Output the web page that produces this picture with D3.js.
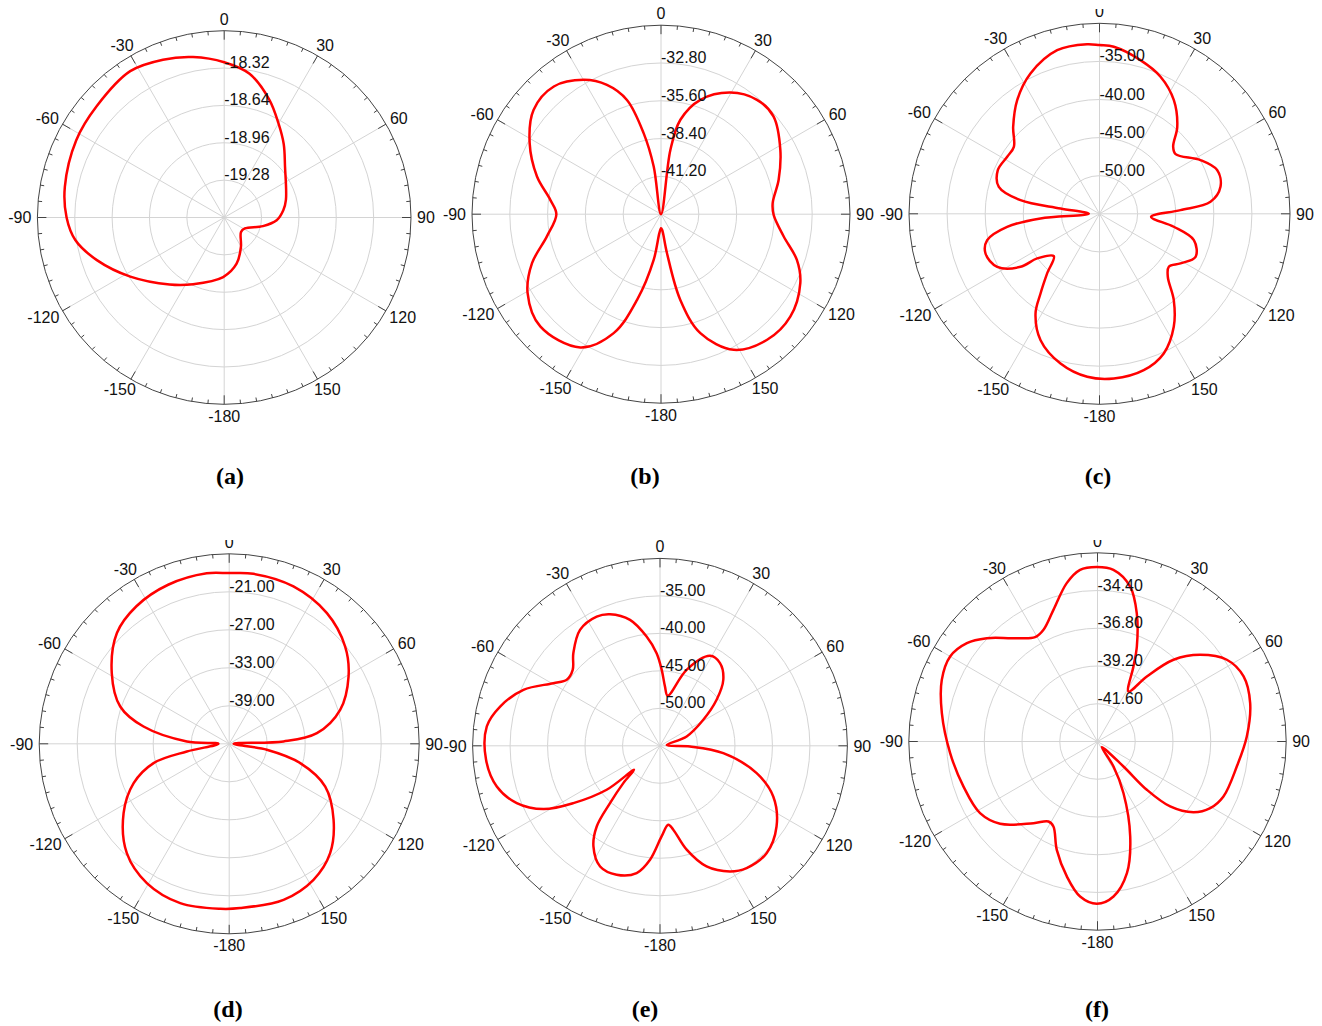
<!DOCTYPE html>
<html>
<head>
<meta charset="utf-8">
<script src="https://cdn.jsdelivr.net/npm/d3@7"></script>
<style>
  body { margin: 0; background: #fff; }
  svg { display: block; }
</style>
</head>
<body>
<svg id="chart" width="1322" height="1026"></svg>
<script>
// angle ticks shared by all six plots
const spokeAngles = [0, 30, 60, 90, 120, 150, 180, 210, 240, 270, 300, 330];
const spokeLabels = ['0', '30', '60', '90', '120', '150', '-180', '-150', '-120', '-90', '-60', '-30'];
const panelNames = ['(a)', '(b)', '(c)', '(d)', '(e)', '(f)'];

// radial axis: [centre value, outer value] and labelled rings
const aRange = [-19.60, -18.00], aRings = [-19.28, -18.96, -18.64, -18.32];
const bRange = [-44.00, -30.00], bRings = [-41.20, -38.40, -35.60, -32.80];
const cRange = [-55.00, -30.00], cRings = [-50.00, -45.00, -40.00, -35.00];
const dRange = [-45.00, -15.00], dRings = [-39.00, -33.00, -27.00, -21.00];
const eRange = [-55.00, -30.00], eRings = [-50.00, -45.00, -40.00, -35.00];
const fRange = [-44.00, -32.00], fRings = [-41.60, -39.20, -36.80, -34.40];

// curves (degrees, dB), in drawing order
const aAngles = [0, 10, 21, 30, 39, 50, 74, 83, 93, 102.5, 118, 130.7, 150.4, 165, -179, -155, -140.8, -122.2, -108.5, -98.6, -90, -79.1, -62.4, -48.9, -32.7, -21.2, -11];
const aValues = [-18.27, -18.35, -18.52, -18.67, -18.79, -18.92, -19.05, -19.09, -19.15, -19.26, -19.40, -19.41, -19.31, -19.19, -19.09, -18.97, -18.86, -18.65, -18.45, -18.31, -18.25, -18.21, -18.17, -18.15, -18.11, -18.15, -18.20];

const bAngles = [0, 8.3, 11.6, 19, 29.7, 40, 49, 61.7, 73.7, 84.4, 90.5, 100.3, 108.6, 116.3, 128.4, 139.8, 151.8, 161.7, 167.3, 171.3, 176, 180, -175, -170.9, -164.4, -158.3, -148.8, -132.9, -120.6, -110.8, -101, -90, -82.6, -73.1, -61.6, -50.7, -40, -29.9, -22.7, -16.6, -12.1, -8.7];
const bValues = [-44.5, -39.19, -36.86, -35.04, -33.63, -32.94, -32.96, -33.96, -34.92, -35.69, -35.65, -34.76, -33.38, -32.49, -31.78, -31.82, -32.60, -34.72, -37.49, -41.09, -42.84, -42.96, -42.59, -40.57, -37.41, -34.52, -32.46, -31.79, -32.52, -33.78, -35.39, -36.25, -35.73, -34.40, -32.94, -31.80, -31.65, -32.52, -33.62, -35.17, -37.86, -40.43];

const cAngles = [0, 4.9, 14.9, 24, 33.2, 41.8, 47.7, 51.9, 62, 69.6, 77.4, 83.8, 87.4, 93.3, 99.9, 105.6, 114.1, 121.5, 127.4, 132.7, 139.3, 146.7, 155.3, 164.2, 175, -175.7, -165.4, -155, -147.3, -143.5, -138.7, -132.8, -125.6, -123.9, -117.4, -109.2, -103.2, -98, -94.5, -90, -82.2, -80.2, -75, -66.8, -58.3, -52, -44.8, -35.9, -26.2, -14.5, -4.2];
const cValues = [-32.86, -33.00, -34.13, -35.31, -37.18, -39.69, -41.93, -42.31, -39.99, -38.53, -38.73, -40.35, -44.37, -48.22, -45.11, -42.14, -41.19, -42.53, -43.55, -42.80, -40.05, -37.25, -34.82, -33.67, -33.31, -33.55, -34.70, -36.70, -39.46, -41.99, -44.59, -46.83, -44.94, -42.52, -39.88, -39.16, -39.86, -42.76, -47.23, -53.60, -49.84, -44.48, -41.32, -40.48, -40.76, -40.74, -38.92, -36.58, -34.48, -32.82, -32.68];

const dAngles = [0, 8.1, 22.2, 36.8, 50, 60.6, 73, 83.1, 87.5, 90, 99, 105.2, 114, 126, 137.3, 148.2, 160.8, 176.2, -176.9, -162.9, -149.4, -136.9, -123.3, -112.4, -104.3, -100.3, -90, -86.8, -78.6, -71.1, -59, -45.4, -34, -21, -7.5];
const dValues = [-18.05, -17.89, -18.16, -19.24, -21.10, -23.37, -26.68, -31.05, -36.42, -44.30, -38.98, -33.38, -28.40, -24.63, -21.50, -19.74, -18.92, -19.00, -18.91, -18.68, -19.45, -21.34, -25.05, -28.68, -32.68, -38.20, -43.30, -38.30, -31.20, -26.81, -23.37, -20.10, -18.80, -18.10, -17.84];

const eAngles = [8.7, 19.3, 29.1, 36, 43.8, 50.9, 59, 70.7, 84, 91.3, 96.6, 105.8, 114.1, 124.7, 135.2, 144.7, 150.9, 158.9, 165.6, 171, 174, 179, -175, -169.6, -161.4, -153.6, -146.5, -141.9, -138.9, -135.5, -132.7, -129.5, -123.5, -118.5, -111.8, -104, -94.6, -83.6, -76.2, -67.7, -59.6, -54.7, -49, -43.1, -34.6, -26.1, -20.8, -13.4, -7, -2.1, 1.3, 4.8];
const eValues = [-48.25, -44.26, -41.27, -41.38, -42.80, -45.27, -48.26, -51.23, -54.10, -51.00, -46.50, -41.60, -38.45, -36.09, -34.82, -35.01, -35.82, -37.75, -40.69, -43.67, -44.41, -42.91, -39.74, -37.74, -36.86, -37.03, -38.91, -41.32, -44.86, -48.02, -50.29, -45.78, -41.14, -37.31, -34.42, -32.56, -31.72, -31.75, -33.04, -35.31, -38.50, -39.76, -39.57, -38.08, -36.21, -35.80, -36.22, -37.73, -40.32, -42.64, -44.87, -47.06];

const fAngles = [-0.2, 5.3, 11.9, 17, 22.5, 25.6, 31.8, 37.2, 42.9, 49.8, 57.7, 66, 75.9, 88.1, 100.2, 113.6, 120.6, 126.4, 131.8, 134.4, 133.9, 142.6, 147.4, 153.3, 161, 167.4, 174.1, -179.8, -173.6, -167.2, -159.4, -152.6, -148.5, -141.9, -130.2, -121.4, -108.6, -94.5, -79.7, -68.4, -60, -53, -47, -39.1, -30.9, -25.8, -18.5, -11, -5.8];
const fValues = [-32.91, -33.04, -33.93, -35.46, -37.46, -38.71, -40.26, -38.81, -36.90, -35.46, -34.27, -33.83, -33.99, -34.50, -35.00, -35.26, -35.67, -36.42, -37.80, -39.61, -41.71, -43.55, -42.11, -40.32, -37.61, -35.42, -34.09, -33.68, -34.08, -35.20, -36.64, -37.91, -38.03, -37.40, -35.89, -35.25, -35.01, -34.60, -33.94, -33.35, -33.18, -33.60, -34.37, -35.53, -36.27, -36.11, -35.17, -33.74, -33.03];

const panels = [
  { range: aRange, rings: aRings, angles: aAngles, values: aValues },
  { range: bRange, rings: bRings, angles: bAngles, values: bValues },
  { range: cRange, rings: cRings, angles: cAngles, values: cValues },
  { range: dRange, rings: dRings, angles: dAngles, values: dValues },
  { range: eRange, rings: eRings, angles: eAngles, values: eValues },
  { range: fRange, rings: fRings, angles: fAngles, values: fValues }
];

// where each plot sits on the page; cut = the top edge the original panel was cropped at
const layout = [
  { cx: 224.2, cy: 217.5, R: 186.8, lx: 230, ly: 484, cut: null },
  { cx: 661.0, cy: 214.2, R: 189.0, lx: 645, ly: 484, cut: null },
  { cx: 1099.5, cy: 213.8, R: 190.5, lx: 1098, ly: 484, cut: 9 },
  { cx: 229.2, cy: 743.8, R: 190.0, lx: 228, ly: 1017, cut: 540 },
  { cx: 660.0, cy: 745.8, R: 187.4, lx: 645, ly: 1017, cut: null },
  { cx: 1097.5, cy: 741.5, R: 188.7, lx: 1097, ly: 1017, cut: 540 }
];

const svg = d3.select('#chart');
const rad = d => d * Math.PI / 180;
const font = '"Liberation Sans", Arial, sans-serif';

panels.forEach((p, i) => {
  const L = layout[i];
  const g = svg.append('g').attr('transform', `translate(${L.cx},${L.cy})`);
  const r = d3.scaleLinear().domain(p.range).range([0, L.R]).clamp(true);

  // grid rings
  g.selectAll('circle.ring')
    .data(p.rings)
    .enter().append('circle')
    .attr('r', d => r(d))
    .attr('fill', 'none')
    .attr('stroke', '#d4d4d4')
    .attr('stroke-width', 1);

  // spokes
  g.selectAll('line.spoke')
    .data(spokeAngles)
    .enter().append('line')
    .attr('x1', 0).attr('y1', 0)
    .attr('x2', d => L.R * Math.sin(rad(d)))
    .attr('y2', d => -L.R * Math.cos(rad(d)))
    .attr('stroke', '#d4d4d4')
    .attr('stroke-width', 1);

  // outer circle + ticks every 5 deg
  g.append('circle')
    .attr('r', L.R)
    .attr('fill', 'none')
    .attr('stroke', '#444')
    .attr('stroke-width', 1);

  g.selectAll('line.tick')
    .data(d3.range(0, 360, 5))
    .enter().append('line')
    .attr('x1', d => L.R * Math.sin(rad(d)))
    .attr('y1', d => -L.R * Math.cos(rad(d)))
    .attr('x2', d => (L.R - (d % 30 === 0 ? 9 : 4)) * Math.sin(rad(d)))
    .attr('y2', d => -(L.R - (d % 30 === 0 ? 9 : 4)) * Math.cos(rad(d)))
    .attr('stroke', '#444')
    .attr('stroke-width', 1);

  // angle labels, box just touching the outside of the circle
  spokeAngles.forEach((a, k) => {
    const t = g.append('text')
      .text(spokeLabels[k])
      .attr('font-family', font)
      .attr('font-size', 16)
      .attr('fill', '#111')
      .attr('text-anchor', 'middle');
    const w = t.node().getComputedTextLength();
    const s = Math.sin(rad(a)), c = Math.cos(rad(a));
    const gap = 6, h = 11.5;
    t.attr('x', (L.R + gap) * s + s * w / 2)
      .attr('y', -(L.R + gap) * c - c * h / 2 + h / 2);
  });

  // red pattern
  const pts = p.angles.map((a, k) => [a, p.values[k]]);
  const line = d3.lineRadial()
    .angle(d => rad(d[0]))
    .radius(d => r(d[1]))
    .curve(d3.curveCatmullRomClosed.alpha(0.5));

  g.append('path')
    .attr('d', line(pts))
    .attr('fill', 'none')
    .attr('stroke', '#ff0000')
    .attr('stroke-width', 2.5)
    .attr('stroke-linejoin', 'round');

  // ring value labels
  g.selectAll('text.rv')
    .data(p.rings)
    .enter().append('text')
    .attr('x', 0)
    .attr('y', d => -r(d))
    .attr('font-family', font)
    .attr('font-size', 16)
    .attr('fill', '#111')
    .text(d => d.toFixed(2));

  // the source panels were cropped just above some "0" labels
  if (L.cut !== null) {
    svg.append('rect')
      .attr('x', L.cx - 15).attr('y', L.cut - 14)
      .attr('width', 30).attr('height', 14)
      .attr('fill', '#fff');
  }

  svg.append('text')
    .attr('x', L.lx).attr('y', L.ly)
    .attr('text-anchor', 'middle')
    .attr('font-family', '"Liberation Serif", "Times New Roman", serif')
    .attr('font-weight', 'bold')
    .attr('font-size', 24)
    .text(panelNames[i]);
});
</script>
</body>
</html>
